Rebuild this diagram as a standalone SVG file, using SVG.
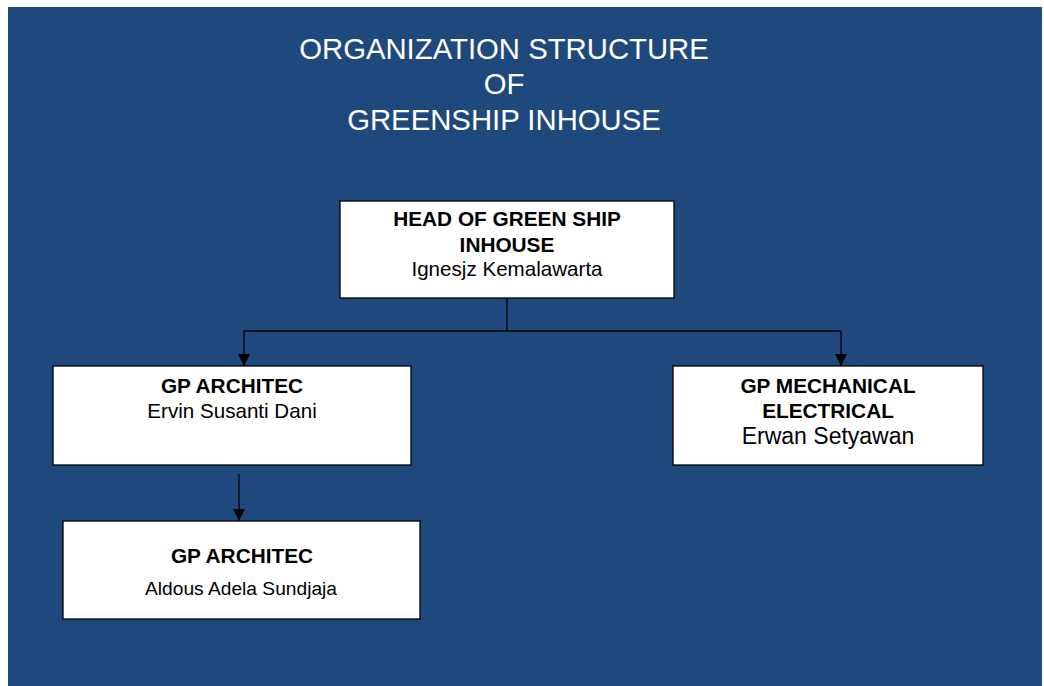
<svg xmlns="http://www.w3.org/2000/svg" width="1044" height="686" viewBox="0 0 1044 686">
<defs>
<style>
.node rect{fill:#fff;stroke:#000;stroke-width:1.3}
.b{font-family:"Liberation Sans",Arial,sans-serif;font-weight:bold;font-size:20.8px;fill:#000;text-anchor:middle}
.r{font-family:"Liberation Sans",Arial,sans-serif;font-size:20.6px;fill:#000;text-anchor:middle}
.t{font-family:"Liberation Sans",Arial,sans-serif;font-size:29.3px;fill:#fff;text-anchor:middle}
.c{fill:none;stroke:#000;stroke-width:1.3}
</style>
<marker id="arr" viewBox="0 0 10 10" refX="10" refY="5" markerWidth="12" markerHeight="12" markerUnits="userSpaceOnUse" orient="auto">
<path d="M0,0 L10,5 L0,10 z" fill="#000"/>
</marker>
</defs>
<rect x="0" y="0" width="1044" height="686" fill="#fff"/>
<rect x="8" y="7" width="1034" height="679" fill="#1F497D"/>
<g id="title">
<text class="t" x="504" y="59">ORGANIZATION STRUCTURE</text>
<text class="t" x="504" y="94">OF</text>
<text class="t" x="504" y="130">GREENSHIP INHOUSE</text>
</g>
<g id="connectors">
<path class="c" d="M507,298 V331"/>
<path class="c" d="M244,331 H841"/>
<path class="c" d="M244,331 V366" marker-end="url(#arr)"/>
<path class="c" d="M841,331 V366" marker-end="url(#arr)"/>
<path class="c" d="M239,474 V521" marker-end="url(#arr)"/>
</g>
<g id="head" class="node">
<rect x="340" y="201" width="334" height="97"/>
<text class="b" x="507" y="226">HEAD OF GREEN SHIP</text>
<text class="b" x="507" y="252">INHOUSE</text>
<text class="r" x="507" y="276">Ignesjz Kemalawarta</text>
</g>
<g id="architec1" class="node">
<rect x="53" y="366" width="358" height="99"/>
<text class="b" x="232" y="393">GP ARCHITEC</text>
<text class="r" x="232" y="418">Ervin Susanti Dani</text>
</g>
<g id="mechanical" class="node">
<rect x="673" y="366" width="310" height="99"/>
<text class="b" x="828" y="393">GP MECHANICAL</text>
<text class="b" x="828" y="418">ELECTRICAL</text>
<text class="r" x="828" y="444" style="font-size:23px">Erwan Setyawan</text>
</g>
<g id="architec2" class="node">
<rect x="63" y="521" width="357" height="98"/>
<text class="b" x="242" y="563">GP ARCHITEC</text>
<text class="r" x="241" y="595" style="font-size:19.2px">Aldous Adela Sundjaja</text>
</g>
</svg>
